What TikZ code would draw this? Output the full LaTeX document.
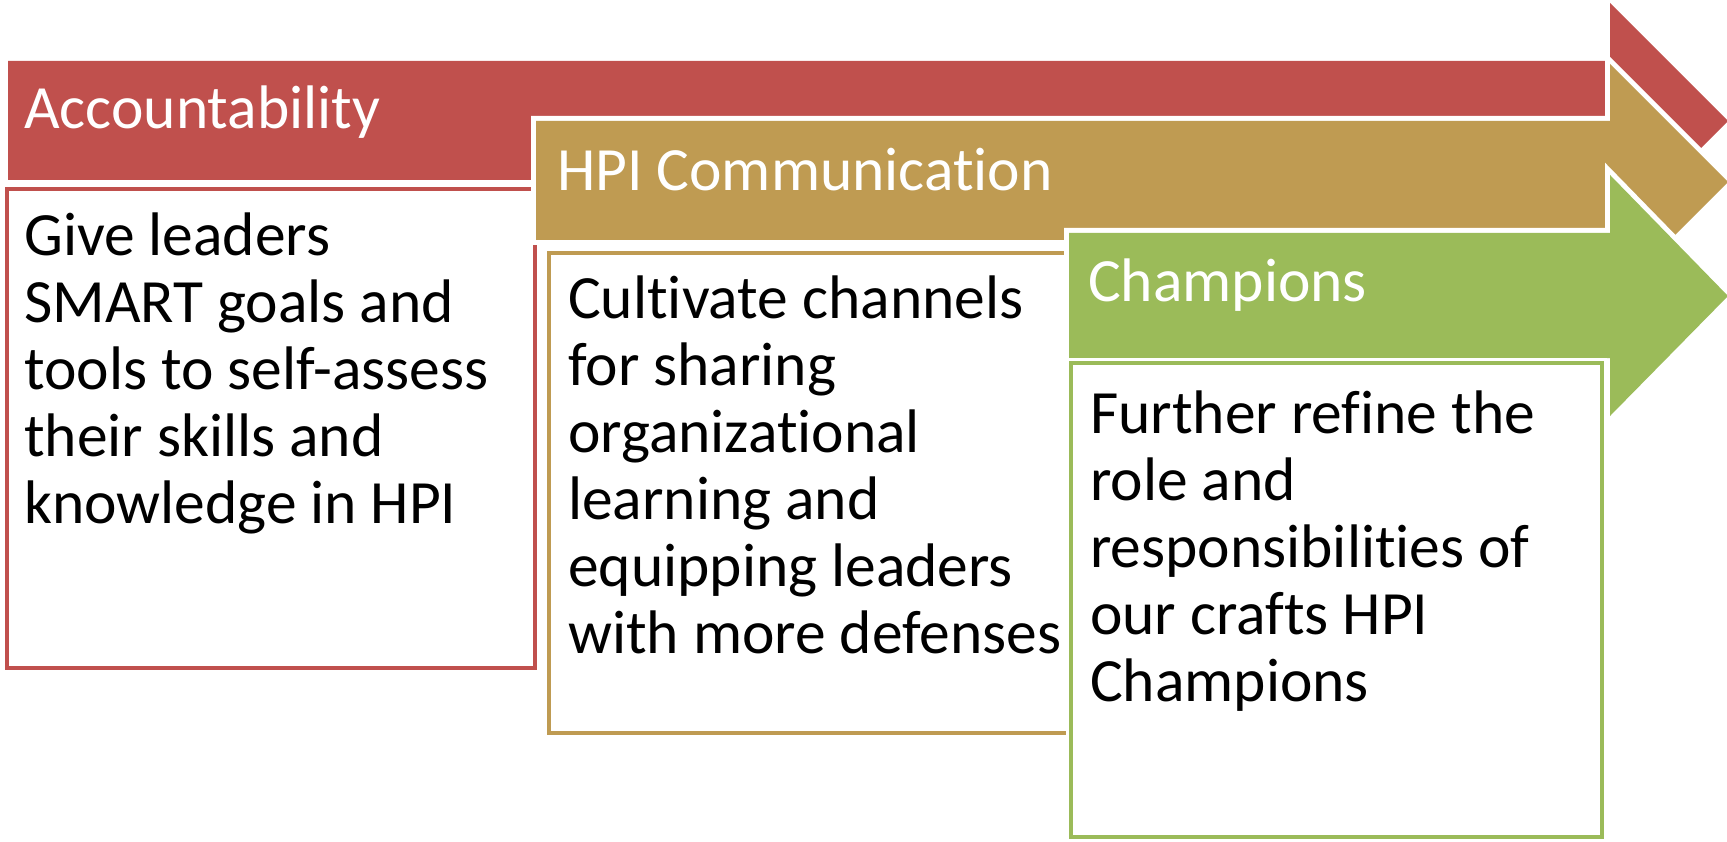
\documentclass[tikz,border=0pt]{standalone}
\usepackage{fontspec}
\setmainfont[Ligatures=NoCommon]{Carlito}
\usetikzlibrary{positioning}

\definecolor{acctred}{HTML}{C0504D}
\definecolor{commgold}{HTML}{BF9B52}
\definecolor{champgreen}{HTML}{9BBB59}

\tikzset{
  banner/.style={fill=#1, preaction={draw=white, line width=10pt, line join=miter}},
  card/.style={draw=#1, fill=white, line width=4pt, preaction={draw=white, line width=10pt}},
  headtext/.style={text=white, font=\fontsize{61.5}{67}\selectfont, anchor=base west, inner sep=0pt},
  % base of a multi-line node sits on its last line
  boxtext/.style={text=black, font=\fontsize{61.5}{67}\selectfont, anchor=base west, align=left, inner sep=0pt},
}

\begin{document}
\begin{tikzpicture}[x=1pt,y=-1pt]
\useasboundingbox (0,0) rectangle (1727,842);

% first step
\fill[banner=acctred] (8,61) -- (1610,61) -- (1610,3) -- (1728,121) -- (1610,239) -- (1610,180) -- (8,180) -- cycle;
\draw[card=acctred] (7,189) rectangle (535,668);
\node[headtext] (acct) at (24,129) {Accountability};
\node[boxtext] (accttxt) at (24,523) {Give leaders\\SMART goals and\\tools to self-assess\\their skills and\\knowledge in HPI};

% second step
\fill[banner=commgold] (536,121) -- (1610,121) -- (1610,64) -- (1728,182) -- (1610,300) -- (1610,240) -- (536,240) -- cycle;
\draw[card=commgold] (549,253) rectangle (1069,733);
\node[headtext] (comm) at (557,191) {HPI Communication};
\node[boxtext] (commtxt) at (568,653) {Cultivate channels\\for sharing\\organizational\\learning and\\equipping leaders\\with more defenses};

% third step
\fill[banner=champgreen] (1069,233) -- (1610,233) -- (1610,175) -- (1728,296) -- (1610,416) -- (1610,358) -- (1069,358) -- cycle;
\draw[card=champgreen] (1071,363) rectangle (1602,837);
\node[headtext] (champ) at (1088,302) {Champions};
\node[boxtext] (champtxt) at (1090,701) {Further refine the\\role and\\responsibilities of\\our crafts HPI\\Champions};

\end{tikzpicture}
\end{document}
